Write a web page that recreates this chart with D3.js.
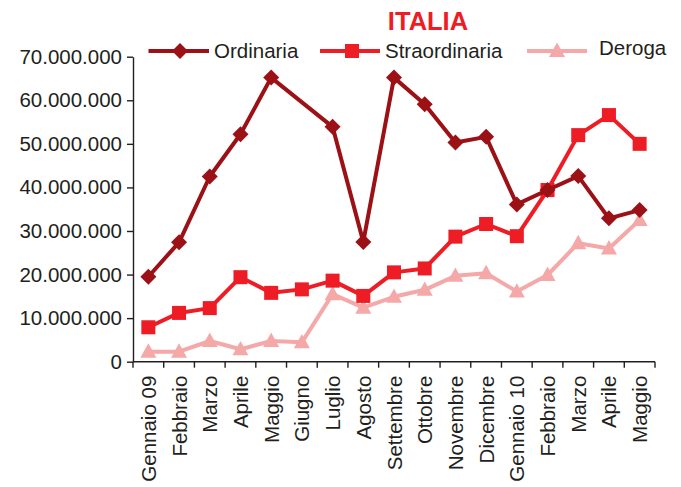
<!DOCTYPE html>
<html>
<head>
<meta charset="utf-8">
<script src="https://cdn.jsdelivr.net/npm/d3@7"></script>
<style>
  html, body { margin: 0; padding: 0; background: #fff; }
  svg { display: block; }
  text { font-family: "Liberation Sans", Arial, sans-serif; fill: #231f20; }
</style>
</head>
<body>
<svg id="chart" width="681" height="487"></svg>
<script>
const categories = ["Gennaio 09","Febbraio","Marzo","Aprile","Maggio","Giugno","Luglio","Agosto","Settembre","Ottobre","Novembre","Dicembre","Gennaio 10","Febbraio","Marzo","Aprile","Maggio"];
const ordinaria = [19.5, 27.4, 42.5, 52.2, 65.2, null, 53.9, 27.5, 65.2, 59.1, 50.3, 51.6, 36.1, 39.4, 42.6, 32.9, 34.8];
const straordinaria = [7.9, 11.2, 12.3, 19.4, 15.8, 16.6, 18.6, 15.1, 20.5, 21.4, 28.7, 31.6, 28.8, 39.4, 52.0, 56.6, 50.0];
const deroga = [2.3, 2.3, 4.75, 2.85, 4.75, 4.45, 15.5, 12.4, 14.9, 16.5, 19.7, 20.3, 16.1, 19.9, 27.2, 26.0, 32.5];
const yTicks = [0, 10000000, 20000000, 30000000, 40000000, 50000000, 60000000, 70000000];
const seriesNames = ["Ordinaria", "Straordinaria", "Deroga"];
const seriesColors = ["#9b1116", "#ee1c25", "#f5a8a8"];
const seriesShapes = ["diamond", "square", "triangle"];
const title = "ITALIA";

const svg = d3.select("#chart");
const mLeft = 133, mRight = 655, mTop = 56.7, mBottom = 361.7;

const x = d3.scaleBand().domain(d3.range(categories.length)).range([mLeft, mRight]).padding(0);
const y = d3.scaleLinear().domain([0, 70000000]).range([mBottom, mTop]);

const loc = d3.formatLocale({decimal: ",", thousands: ".", grouping: [3], currency: ["", "€"]});
const fmt = loc.format(",.0f");

// Y axis
const yAxis = svg.append("g").attr("transform", `translate(${mLeft},0)`)
  .call(d3.axisLeft(y).tickValues(yTicks).tickFormat(fmt).tickSize(6).tickPadding(5).tickSizeOuter(0));
yAxis.select(".domain").attr("stroke", "#231f20").attr("stroke-width", 1.4);
yAxis.selectAll(".tick line").attr("stroke", "#231f20").attr("stroke-width", 1.4);
yAxis.selectAll(".tick text").attr("font-size", 20.5).attr("font-family", "Liberation Sans, Arial, sans-serif").attr("fill", "#231f20");

// X axis with ticks between categories
const xAxisG = svg.append("g").attr("transform", `translate(0,${mBottom})`);
xAxisG.append("line").attr("x1", mLeft).attr("x2", mRight).attr("stroke", "#231f20").attr("stroke-width", 1.4);
const boundaries = d3.range(categories.length + 1).map(i => i < categories.length ? x(i) : x(categories.length - 1) + x.bandwidth());
xAxisG.selectAll("line.tk").data(boundaries).join("line").attr("class", "tk")
  .attr("x1", d => d).attr("x2", d => d).attr("y1", 0).attr("y2", 6)
  .attr("stroke", "#231f20").attr("stroke-width", 1.4);
xAxisG.selectAll("text.lbl").data(categories).join("text").attr("class", "lbl")
  .attr("transform", (d, i) => `translate(${x(i) + x.bandwidth() / 2 + 7.5},14) rotate(-90)`)
  .attr("text-anchor", "end")
  .attr("font-size", 20.5)
  .text(d => d);

// Symbols
function drawMarker(g, shape, color, cx, cy, s) {
  if (shape === "diamond") {
    g.append("path").attr("d", `M${cx},${cy - s}L${cx + s},${cy}L${cx},${cy + s}L${cx - s},${cy}Z`).attr("fill", color);
  } else if (shape === "square") {
    g.append("rect").attr("x", cx - s).attr("y", cy - s).attr("width", 2 * s).attr("height", 2 * s).attr("fill", color);
  } else {
    g.append("path").attr("d", `M${cx},${cy - s * 1.05}L${cx + s},${cy + s * 0.75}L${cx - s},${cy + s * 0.75}Z`).attr("fill", color);
  }
}
const markerSize = [8, 7, 8];

const allSeries = [ordinaria, straordinaria, deroga];
[2, 1, 0].forEach(si => {
  const vals = allSeries[si];
  const pts = vals.map((v, i) => ({i, v})).filter(d => d.v !== null);
  const line = d3.line().x(d => x(d.i) + x.bandwidth() / 2).y(d => y(d.v * 1e6));
  const g = svg.append("g");
  g.append("path").datum(pts).attr("d", line).attr("fill", "none")
    .attr("stroke", seriesColors[si]).attr("stroke-width", 4).attr("stroke-linejoin", "round");
  pts.forEach(d => drawMarker(g, seriesShapes[si], seriesColors[si], x(d.i) + x.bandwidth() / 2, y(d.v * 1e6), markerSize[si]));
});

// Title
svg.append("text").attr("x", 428).attr("y", 29.5).attr("text-anchor", "middle")
  .attr("font-size", 25.5).attr("font-weight", "bold").style("fill", "#ee1c25").text(title);

// Legend
const legendItems = [
  {lx1: 148.5, lx2: 209, mx: 180, tx: 214, ty: 58},
  {lx1: 320, lx2: 380, mx: 352, tx: 385, ty: 58},
  {lx1: 527, lx2: 587, mx: 557, tx: 599, ty: 55}
];
const ly = 51;
legendItems.forEach((it, i) => {
  const g = svg.append("g");
  g.append("line").attr("x1", it.lx1).attr("x2", it.lx2).attr("y1", ly).attr("y2", ly)
    .attr("stroke", seriesColors[i]).attr("stroke-width", 4);
  drawMarker(g, seriesShapes[i], seriesColors[i], it.mx, ly, markerSize[i]);
  g.append("text").attr("x", it.tx).attr("y", it.ty).attr("font-size", 20.5).text(seriesNames[i]);
});
</script>
</body>
</html>
